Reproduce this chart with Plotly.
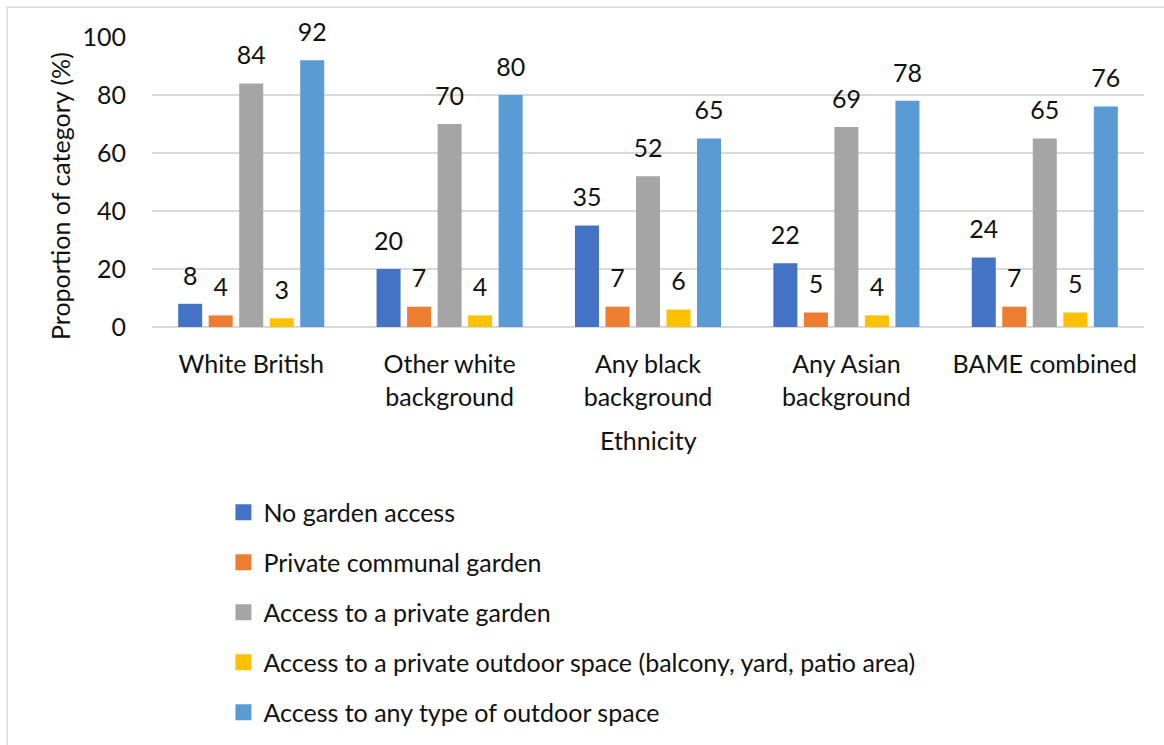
import plotly.graph_objects as go

# Ethnic groups (x categories) and the share of each group with each kind of outdoor access
categories = ["White British", "Other white<br>background", "Any black<br>background",
              "Any Asian<br>background", "BAME combined"]
series_names = ["No garden access", "Private communal garden", "Access to a private garden",
                "Access to a private outdoor space (balcony, yard, patio area)",
                "Access to any type of outdoor space"]
no_garden = [8, 20, 35, 22, 24]
communal_garden = [4, 7, 7, 5, 7]
private_garden = [84, 70, 52, 69, 65]
private_outdoor = [3, 4, 6, 4, 5]
any_outdoor = [92, 80, 65, 78, 76]
y_ticks = [0, 20, 40, 60, 80, 100]

series_values = [no_garden, communal_garden, private_garden, private_outdoor, any_outdoor]
colors = ["#4472C4", "#ED7D31", "#A5A5A5", "#FFC000", "#5B9BD5"]

FONT = "Lato"
TXT = "#111111"
LABEL_SIZE = 25

fig = go.Figure()
for name, vals, col in zip(series_names, series_values, colors):
    # value label sits a little above the bar: the small second line adds the gap
    labels = [f"<span style='font-size:{LABEL_SIZE}px'>{v}</span><br>\u00a0" for v in vals]
    fig.add_trace(go.Bar(
        x=categories, y=vals, name=name, legendgroup=name, showlegend=False,
        marker=dict(color=col, line=dict(width=0)),
        text=labels, textposition="outside", constraintext="none", cliponaxis=False,
        textfont=dict(family=FONT, size=11, color=TXT),
        hoverinfo="x+y+name",
    ))
    # legend swatch (square key)
    fig.add_trace(go.Scatter(
        x=[None], y=[None], mode="markers", name=name, legendgroup=name,
        marker=dict(symbol="square", size=16, color=col),
    ))

fig.update_layout(
    width=1164, height=745,
    margin=dict(l=152, r=20, t=37, b=418, autoexpand=False),
    paper_bgcolor="white", plot_bgcolor="white",
    barmode="group", bargap=0.231, bargroupgap=0.213,
    font=dict(family=FONT, size=LABEL_SIZE, color=TXT),
    legend=dict(
        orientation="v", x=0.072, xanchor="left", y=-0.56, yanchor="top",
        font=dict(family=FONT, size=LABEL_SIZE, color=TXT),
        tracegroupgap=14.5, itemsizing="trace", bgcolor="rgba(0,0,0,0)",
    ),
    xaxis=dict(
        showgrid=False, showline=False, ticks="", ticklabelstandoff=20,
        tickfont=dict(family=FONT, size=LABEL_SIZE, color=TXT),
    ),
    yaxis=dict(
        range=[0, 100], tickvals=y_ticks, showgrid=True, gridcolor="#D9D9D9", gridwidth=1.5,
        zeroline=True, zerolinecolor="#D9D9D9", zerolinewidth=1.5, showline=False,
        ticks="", ticklabelstandoff=25,
        tickfont=dict(family=FONT, size=LABEL_SIZE, color=TXT),
    ),
    showlegend=True,
    annotations=[
        dict(text="Ethnicity", xref="paper", yref="paper", x=0.5, y=-0.39,
             xanchor="center", yanchor="middle", showarrow=False,
             font=dict(family=FONT, size=LABEL_SIZE, color=TXT)),
        dict(text="Proportion of category (%)", xref="paper", yref="paper", x=-0.0927, y=0.452,
             xanchor="center", yanchor="middle", textangle=-90, showarrow=False,
             font=dict(family=FONT, size=LABEL_SIZE, color=TXT)),
    ],
)

# thin chart-area frame
fig.add_shape(type="rect", xref="paper", yref="paper",
              x0=-0.146, x1=1.03, y0=-1.5, y1=1.103,
              line=dict(color="#D9D9D9", width=1.5), fillcolor="rgba(0,0,0,0)", layer="below")

fig.write_html("out.html")
